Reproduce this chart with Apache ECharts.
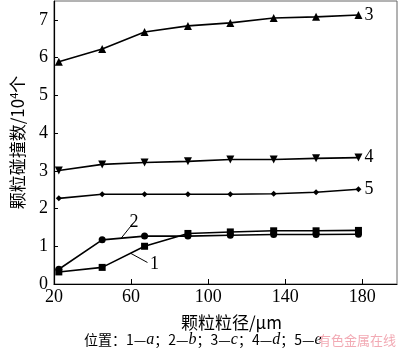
<!DOCTYPE html>
<html>
<head>
<meta charset="utf-8">
<script src="https://cdn.jsdelivr.net/npm/echarts@6/dist/echarts.min.js"></script>
<style>
  html, body { margin: 0; padding: 0; background: #fff; }
  #main { width: 400px; height: 351px; }
</style>
</head>
<body>
<div id="main"></div>
<script>
// 颗粒粒径 (μm)
var sizes = [22.5, 45, 67, 89.5, 111.5, 134, 156, 178];
// 各位置颗粒碰撞数 /10^4 个
var pos1 = [0.32, 0.44, 1.00, 1.34, 1.38, 1.41, 1.41, 1.42];
var pos2 = [0.39, 1.17, 1.27, 1.27, 1.29, 1.31, 1.31, 1.32];
var pos3 = [5.89, 6.23, 6.68, 6.84, 6.92, 7.05, 7.08, 7.13];
var pos4 = [3.01, 3.17, 3.22, 3.25, 3.30, 3.30, 3.33, 3.35];
var pos5 = [2.27, 2.38, 2.38, 2.38, 2.38, 2.39, 2.43, 2.51];
var xTicks = [20, 60, 100, 140, 180];
var yTicks = [0, 1, 2, 3, 4, 5, 6, 7];

var serif = '"Liberation Serif", "Times New Roman", serif';
var cjk = '"Noto Sans CJK SC", sans-serif';

function pairs(vals) {
    return sizes.map(function (x, i) { return [x, vals[i]]; });
}

// 曲线通用样式
function makeSeries(name, vals, symbol, size, rotate, endText) {
    var s = {
        name: name,
        type: 'line',
        data: pairs(vals),
        symbol: symbol,
        symbolSize: size,
        symbolRotate: rotate || 0,
        lineStyle: { color: '#000', width: 1.6 },
        itemStyle: { color: '#000' },
        animation: false
    };
    if (endText) {
        s.endLabel = {
            show: true,
            formatter: endText,
            distance: 6,
            color: '#000',
            fontFamily: serif,
            fontSize: 18
        };
    }
    return s;
}

var chart = echarts.init(document.getElementById('main'));

var s1 = makeSeries('1', pos1, 'rect', 7);
s1.markLine = {
    silent: true,
    symbol: 'none',
    animation: false,
    lineStyle: { color: '#000', width: 1, type: 'solid' },
    label: { show: true, position: 'end', formatter: '1', color: '#000', fontFamily: serif, fontSize: 18, distance: 3 },
    data: [[{ coord: [59.9, 0.81] }, { coord: [68.5, 0.57] }]]
};
var s2 = makeSeries('2', pos2, 'circle', 7);
s2.markLine = {
    silent: true,
    symbol: 'none',
    animation: false,
    lineStyle: { color: '#000', width: 1, type: 'solid' },
    label: { show: true, position: 'end', formatter: '2', color: '#000', fontFamily: serif, fontSize: 18, distance: 2 },
    data: [[{ coord: [54.8, 1.21] }, { coord: [60.9, 1.60] }]]
};

var option = {
    backgroundColor: '#fff',
    animation: false,
    grid: {
        left: 44, right: 3, top: 1, bottom: 67,
        show: true,
        borderColor: '#666',
        borderWidth: 1
    },
    xAxis: {
        type: 'value',
        min: 20,
        max: 198,
        name: '颗粒粒径/μm',
        nameLocation: 'middle',
        nameGap: 30,
        nameTextStyle: { fontFamily: cjk, fontSize: 17, color: '#000', padding: [0, 0, 0, 12] },
        axisLine: { show: true, lineStyle: { color: '#000', width: 1.2 } },
        axisTick: { show: true, inside: true, length: 5, customValues: xTicks, lineStyle: { color: '#000' } },
        axisLabel: { customValues: xTicks, margin: 4, color: '#000', fontFamily: serif, fontSize: 18 },
        splitLine: { show: false }
    },
    yAxis: {
        type: 'value',
        min: 0,
        max: 7.5,
        name: '{a|颗粒碰撞数/10}{s|4}{a|个}',
        nameLocation: 'middle',
        nameRotate: 90,
        nameGap: 27,
        nameTextStyle: {
            rich: {
                a: { fontFamily: cjk, fontSize: 17, color: '#000' },
                s: { fontFamily: cjk, fontSize: 11, color: '#000', verticalAlign: 'top', padding: [0, 0, 8, 0] }
            }
        },
        axisLine: { show: true, lineStyle: { color: '#000', width: 1.2 } },
        axisTick: { show: true, inside: true, length: 4, customValues: yTicks, lineStyle: { color: '#000' } },
        axisLabel: { customValues: yTicks, margin: 6, color: '#000', fontFamily: serif, fontSize: 18 },
        splitLine: { show: false }
    },
    graphic: [
        {
            type: 'text',
            left: 84,
            top: 332,
            style: {
                text: '{c|位置：1—}{i|a}{c|；2—}{i|b}{c|；3—}{i|c}{c|；4—}{i|d}{c|；5—}{i|e}',
                rich: {
                    c: { fontFamily: cjk, fontSize: 14, fill: '#000' },
                    i: { fontFamily: serif, fontStyle: 'italic', fontSize: 16, fill: '#000' }
                }
            }
        },
        {
            type: 'text',
            left: 318,
            top: 334,
            style: { text: '有色金属在线', fontFamily: cjk, fontSize: 13, fill: '#f2aab4' }
        }
    ],
    series: [
        s1,
        s2,
        makeSeries('3', pos3, 'triangle', 8, 0, '3'),
        makeSeries('4', pos4, 'triangle', 8, 180, '4'),
        makeSeries('5', pos5, 'diamond', 6, 0, '5')
    ]
};
chart.setOption(option);
</script>
</body>
</html>
